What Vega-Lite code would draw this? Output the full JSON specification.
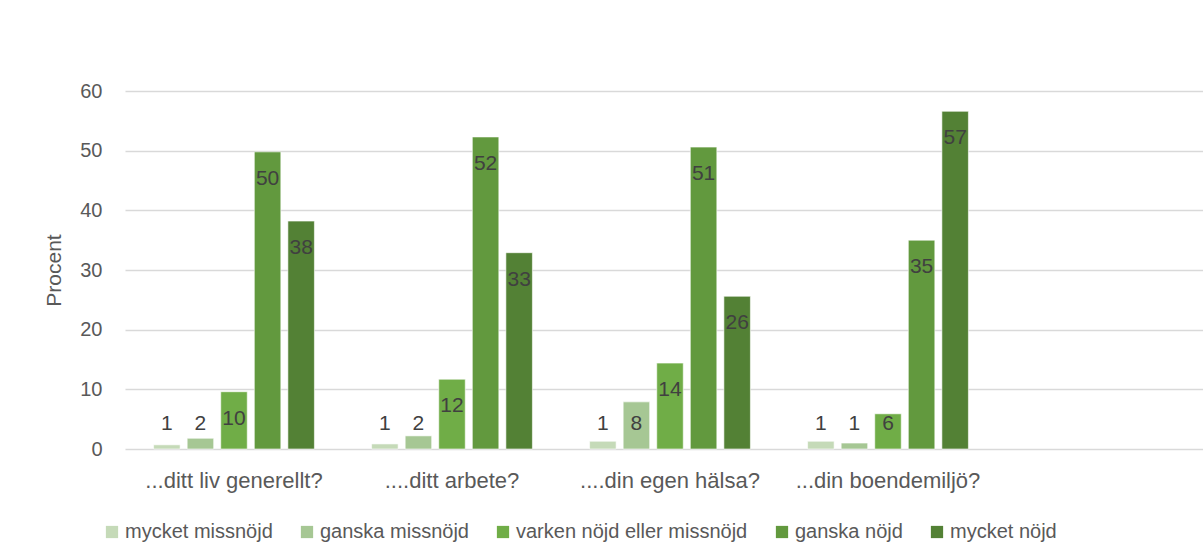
{
  "$schema": "https://vega.github.io/schema/vega-lite/v6.json",
  "width": 1090,
  "height": 358,
  "autosize": {"type": "none"},
  "padding": {"left": 125, "top": 91, "right": 0, "bottom": 111},
  "background": "white",
  "config": {
    "font": "Liberation Sans",
    "view": {"stroke": null},
    "axis": {"labelColor": "#595959", "titleColor": "#595959", "labelFont": "Liberation Sans", "titleFont": "Liberation Sans"},
    "legend": {"labelFont": "Liberation Sans"}
  },
  "data": {
    "values": [
      {"fråga": "...ditt liv generellt?", "svar": "mycket missnöjd", "procent": 0.7},
      {"fråga": "...ditt liv generellt?", "svar": "ganska missnöjd", "procent": 1.8},
      {"fråga": "...ditt liv generellt?", "svar": "varken nöjd eller missnöjd", "procent": 9.6},
      {"fråga": "...ditt liv generellt?", "svar": "ganska nöjd", "procent": 49.8},
      {"fråga": "...ditt liv generellt?", "svar": "mycket nöjd", "procent": 38.2},
      {"fråga": "....ditt arbete?", "svar": "mycket missnöjd", "procent": 0.85},
      {"fråga": "....ditt arbete?", "svar": "ganska missnöjd", "procent": 2.2},
      {"fråga": "....ditt arbete?", "svar": "varken nöjd eller missnöjd", "procent": 11.7},
      {"fråga": "....ditt arbete?", "svar": "ganska nöjd", "procent": 52.3},
      {"fråga": "....ditt arbete?", "svar": "mycket nöjd", "procent": 32.9},
      {"fråga": "....din egen hälsa?", "svar": "mycket missnöjd", "procent": 1.3},
      {"fråga": "....din egen hälsa?", "svar": "ganska missnöjd", "procent": 7.9},
      {"fråga": "....din egen hälsa?", "svar": "varken nöjd eller missnöjd", "procent": 14.4},
      {"fråga": "....din egen hälsa?", "svar": "ganska nöjd", "procent": 50.6},
      {"fråga": "....din egen hälsa?", "svar": "mycket nöjd", "procent": 25.6},
      {"fråga": "...din boendemiljö?", "svar": "mycket missnöjd", "procent": 1.3},
      {"fråga": "...din boendemiljö?", "svar": "ganska missnöjd", "procent": 1.0},
      {"fråga": "...din boendemiljö?", "svar": "varken nöjd eller missnöjd", "procent": 5.9},
      {"fråga": "...din boendemiljö?", "svar": "ganska nöjd", "procent": 35.0},
      {"fråga": "...din boendemiljö?", "svar": "mycket nöjd", "procent": 56.6}
    ]
  },
  "encoding": {
    "x": {
      "field": "fråga",
      "type": "nominal",
      "scale": {
        "domain": ["...ditt liv generellt?", "....ditt arbete?", "....din egen hälsa?", "...din boendemiljö?", " "],
        "paddingInner": 0.23,
        "paddingOuter": 0.115
      },
      "axis": {
        "title": null,
        "labelAngle": 0,
        "domain": false,
        "ticks": false,
        "labelFontSize": 22,
        "labelPadding": 21,
        "labelLimit": 400
      }
    },
    "xOffset": {
      "field": "svar",
      "type": "nominal",
      "scale": {
        "domain": ["mycket missnöjd", "ganska missnöjd", "varken nöjd eller missnöjd", "ganska nöjd", "mycket nöjd"],
        "paddingInner": 0.21,
        "paddingOuter": 0.105
      }
    }
  },
  "layer": [
    {
      "mark": {"type": "bar", "stroke": "#ffffff", "strokeWidth": 0.6},
      "encoding": {
        "y": {
          "field": "procent",
          "type": "quantitative",
          "scale": {"domain": [0, 60], "nice": false},
          "axis": {
            "title": "Procent",
            "titleFontSize": 21,
            "titleFontWeight": "normal",
            "titlePadding": 15,
            "values": [0, 10, 20, 30, 40, 50, 60],
            "domain": false,
            "ticks": false,
            "labelFontSize": 20,
            "labelPadding": 23,
            "gridColor": "#d9d9d9",
            "gridWidth": 1.5
          }
        },
        "color": {
          "field": "svar",
          "type": "nominal",
          "scale": {
            "domain": ["mycket missnöjd", "ganska missnöjd", "varken nöjd eller missnöjd", "ganska nöjd", "mycket nöjd"],
            "range": ["#c5dab8", "#a6c794", "#70ad47", "#62993e", "#538135"]
          },
          "legend": {
            "title": null,
            "orient": "none",
            "direction": "horizontal",
            "legendX": -23,
            "legendY": 431,
            "symbolType": "square",
            "symbolSize": 150,
            "symbolStrokeWidth": 0,
            "labelFontSize": 20,
            "labelColor": "#595959",
            "labelOffset": 3,
            "columnPadding": 24,
            "labelLimit": 400
          }
        }
      }
    },
    {
      "transform": [{"filter": "datum.procent >= 8.7"}],
      "mark": {"type": "text", "baseline": "middle", "dy": 27, "fontSize": 21, "color": "#404040"},
      "encoding": {
        "y": {"field": "procent", "type": "quantitative"},
        "text": {"field": "procent", "type": "quantitative", "format": ".0f"}
      }
    },
    {
      "transform": [{"filter": "datum.procent < 8.7"}],
      "mark": {"type": "text", "baseline": "middle", "dy": 27, "fontSize": 21, "color": "#404040"},
      "encoding": {
        "y": {"datum": 8.7, "type": "quantitative"},
        "text": {"field": "procent", "type": "quantitative", "format": ".0f"}
      }
    }
  ]
}
